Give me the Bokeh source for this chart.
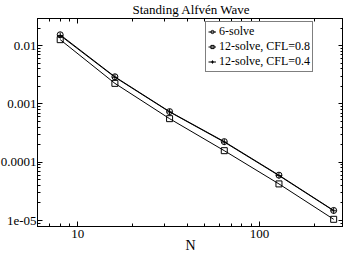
from bokeh.plotting import figure
from bokeh.models import LogAxis, FixedTicker, Legend, LegendItem, Range1d
from bokeh.embed import file_html
from bokeh.resources import INLINE

# ---- data ----
N = [8, 16, 32, 64, 128, 256]
err_6solve = [0.0154, 0.00293, 0.00074, 0.000226, 6.0e-5, 1.49e-5]
err_12_cfl08 = [0.0127, 0.00226, 0.00056, 0.000158, 4.25e-5, 1.05e-5]
err_12_cfl04 = [0.0150, 0.00288, 0.00073, 0.000222, 5.9e-5, 1.47e-5]

series_names = ["6-solve", "12-solve, CFL=0.8", "12-solve, CFL=0.4"]

x_ticks = [10, 100]
x_tick_labels = ["10", "100"]
y_ticks = [1e-5, 1e-4, 1e-3, 1e-2]
y_tick_labels = ["1e-05", "0.0001", "0.001", "0.01"]

title_text = "Standing Alfv\u00e9n Wave"
x_label = "N"

FONT = "Liberation Serif"

x_minor = [k * 10 ** e for e in range(0, 3) for k in range(2, 10)]
y_minor = [k * 10.0 ** e for e in range(-6, -1) for k in range(2, 10)]

p = figure(width=346, height=258, x_axis_type="log", y_axis_type="log",
           x_range=Range1d(6, 290), y_range=Range1d(7.9e-6, 0.0293),
           output_backend="svg", toolbar_location=None,
           min_border_left=38, min_border_right=0, min_border_top=19, min_border_bottom=25,
           margin=(-3, 0, 0, -3))
p.background_fill_color = "white"
p.border_fill_color = "white"
p.outline_line_color = "black"
p.outline_line_width = 1
p.xgrid.visible = False
p.ygrid.visible = False

p.title.text = title_text
p.title.align = "left"
p.title.text_font = FONT
p.title.text_font_size = "13px"
p.title.text_font_style = "normal"
p.title.text_color = "black"
p.title.standoff = 4
p.title.offset = 95

xt = FixedTicker(ticks=x_ticks, minor_ticks=x_minor)
yt = FixedTicker(ticks=y_ticks, minor_ticks=y_minor)


def style_axis(ax, ticker, labels, ticks, show_labels=True):
    ax.ticker = ticker
    ax.axis_line_color = "black"
    ax.major_tick_line_color = "black"
    ax.minor_tick_line_color = "black"
    ax.major_tick_in = 5
    ax.major_tick_out = 0
    ax.minor_tick_in = 3
    ax.minor_tick_out = 0
    ax.major_label_text_font = FONT
    ax.major_label_text_color = "black"
    ax.axis_label_text_font = FONT
    ax.axis_label_text_font_style = "normal"
    ax.axis_label_text_color = "black"
    if show_labels:
        ax.major_label_text_font_size = "13px"
        ax.major_label_overrides = {t: l for t, l in zip(ticks, labels)}
        ax.major_label_standoff = 2
    else:
        ax.major_label_text_font_size = "0px"
        ax.major_label_standoff = -6
        ax.axis_label_standoff = 0
        ax.major_label_overrides = {t: "" for t in ticks}


style_axis(p.xaxis[0], xt, x_tick_labels, x_ticks)
p.xaxis[0].major_label_standoff = 3
p.xaxis[0].axis_label = x_label
p.xaxis[0].axis_label_text_font_size = "14px"
p.xaxis[0].axis_label_standoff = -3
style_axis(p.yaxis[0], yt, y_tick_labels, y_ticks)
p.yaxis[0].major_label_standoff = 1

top = LogAxis()
style_axis(top, FixedTicker(ticks=x_ticks, minor_ticks=x_minor), x_tick_labels, x_ticks, False)
p.add_layout(top, "above")
right = LogAxis()
style_axis(right, FixedTicker(ticks=y_ticks, minor_ticks=y_minor), y_tick_labels, y_ticks, False)
p.add_layout(right, "right")

# ---- series ----
l1 = p.line(N, err_6solve, line_color="black", line_width=1)
m1 = p.scatter(N, err_6solve, marker="circle", size=6, line_color="black",
               fill_alpha=0, line_width=1)
l2 = p.line(N, err_12_cfl08, line_color="black", line_width=1)
m2 = p.scatter(N, err_12_cfl08, marker="square", size=6, line_color="black",
               fill_alpha=0, line_width=1)
l3 = p.line(N, err_12_cfl04, line_color="black", line_width=1)
m3 = p.scatter(N, err_12_cfl04, marker="cross", size=6, line_color="black",
               line_width=1)

legend = Legend(items=[LegendItem(label=series_names[0], renderers=[l1, m1]),
                       LegendItem(label=series_names[1], renderers=[l2, m2]),
                       LegendItem(label=series_names[2], renderers=[l3, m3])],
                location=(168, 154))
legend.label_text_font = FONT
legend.label_text_font_size = "12px"
legend.label_text_color = "black"
legend.border_line_color = "black"
legend.border_line_width = 1
legend.background_fill_color = "white"
legend.background_fill_alpha = 1
legend.padding = 2
legend.spacing = 0
legend.margin = 0
legend.glyph_width = 8
legend.glyph_height = 11
legend.label_height = 11
legend.label_standoff = 3
p.add_layout(legend)

open("out.html", "w").write(file_html(p, INLINE))
